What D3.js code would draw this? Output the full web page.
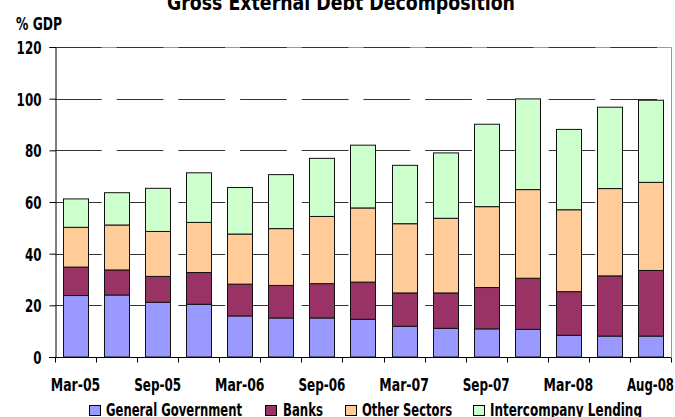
<!DOCTYPE html>
<html>
<head>
<meta charset="utf-8">
<script src="https://cdn.jsdelivr.net/npm/d3@7"></script>
<style>
  html, body { margin: 0; padding: 0; background: #fff; }
  svg { display: block; }
  text { font-family: "Liberation Sans Narrow", "Arial Narrow", "DejaVu Sans Condensed", sans-serif; font-weight: bold; fill: #000; }
</style>
</head>
<body>
<svg id="chart" width="675" height="417"></svg>
<script>
// Quarterly periods
const periods = ["Mar-05","Jun-05","Sep-05","Dec-05","Mar-06","Jun-06","Sep-06","Dec-06",
                 "Mar-07","Jun-07","Sep-07","Dec-07","Mar-08","Jun-08","Aug-08"];
// Only every second period gets a label
const tickLabels = ["Mar-05","Sep-05","Mar-06","Sep-06","Mar-07","Sep-07","Mar-08","Aug-08"];
const yTicks = [0, 20, 40, 60, 80, 100, 120];

// Gross external debt components, % of GDP
const generalGovernment   = [23.8, 24.0, 21.2, 20.4, 15.9, 15.1, 15.1, 14.6, 11.9, 11.1, 10.9, 10.7, 8.4, 8.1, 8.1];
const banks               = [11.0,  9.7, 10.0, 12.3, 12.3, 12.6, 13.3, 14.4, 12.9, 13.7, 16.0, 19.8, 16.9, 23.3, 25.4];
const otherSectors        = [15.4, 17.4, 17.4, 19.4, 19.4, 22.0, 26.0, 28.7, 26.8, 28.9, 31.3, 34.3, 31.7, 33.8, 34.1];
const intercompanyLending = [11.0, 12.5, 16.7, 19.2, 18.0, 20.9, 22.5, 24.3, 22.6, 25.3, 31.9, 35.1, 31.1, 31.5, 31.8];

const seriesNames  = ["General Government", "Banks", "Other Sectors", "Intercompany Lending"];
const seriesValues = [generalGovernment, banks, otherSectors, intercompanyLending];
const seriesColors = ["#9999FF", "#993366", "#FFCC99", "#CCFFCC"];

const svg = d3.select("#chart");
const plot = { left: 55, right: 671, top: 47, bottom: 357 };

const rows = periods.map((p, i) => {
  const r = { period: p };
  seriesNames.forEach((s, k) => r[s] = seriesValues[k][i]);
  return r;
});
const stacked = d3.stack().keys(seriesNames)(rows);

const x = d3.scaleBand().domain(periods).range([plot.left, plot.right])
  .paddingInner(0.39).paddingOuter(0.195);
const y = d3.scaleLinear().domain([0, 120]).range([plot.bottom, plot.top]);

// Title (partly above the top edge)
svg.append("text")
  .attr("x", 341).attr("y", 9.5)
  .attr("text-anchor", "middle")
  .attr("font-size", 22)
  .attr("textLength", 348).attr("lengthAdjust", "spacingAndGlyphs")
  .text("Gross External Debt Decomposition");

// Unit label
svg.append("text")
  .attr("x", 16).attr("y", 30)
  .attr("font-size", 17)
  .attr("textLength", 46).attr("lengthAdjust", "spacingAndGlyphs")
  .text("% GDP");

// Plot frame (top and right)
svg.append("path")
  .attr("d", `M${plot.left},${plot.top + 0.5}H${plot.right + 0.5}V${plot.bottom}`)
  .attr("fill", "none").attr("stroke", "#999").attr("stroke-width", 1);

// Dashed gridlines
svg.append("g").selectAll("line").data(yTicks.filter(d => d > 0)).join("line")
  .attr("x1", plot.left).attr("x2", plot.right)
  .attr("y1", d => Math.round(y(d)) + 0.5).attr("y2", d => Math.round(y(d)) + 0.5)
  .attr("stroke", "#333").attr("stroke-width", 1)
  .attr("stroke-dasharray", "46.7,15");

// Stacked bars
svg.append("g").selectAll("g").data(stacked).join("g")
  .attr("fill", (d, i) => seriesColors[i])
  .selectAll("rect").data(d => d).join("rect")
  .attr("x", d => Math.round(x(d.data.period)) + 0.5)
  .attr("width", Math.round(x.bandwidth()))
  .attr("y", d => y(d[1]))
  .attr("height", d => y(d[0]) - y(d[1]))
  .attr("stroke", "#111").attr("stroke-width", 1);

// Y axis
const yAxis = svg.append("g")
  .attr("transform", `translate(${plot.left + 0.5},0)`)
  .call(d3.axisLeft(y).tickValues(yTicks).tickSize(6).tickPadding(8));
yAxis.select(".domain").attr("stroke", "#000");
yAxis.selectAll(".tick line").attr("stroke", "#000");
yAxis.selectAll(".tick text")
  .attr("font-size", 18).attr("dy", "0.36em")
  .attr("font-family", null)
  .attr("textLength", d => String(d).length * 8.3)
  .attr("lengthAdjust", "spacingAndGlyphs");

// X axis with tick marks between bars
const step = x.step();
const xAxis = svg.append("g")
  .attr("transform", `translate(0,${plot.bottom + 0.5})`);
xAxis.append("line")
  .attr("x1", plot.left - 6).attr("x2", plot.right)
  .attr("stroke", "#000");
xAxis.selectAll("line.tick").data(d3.range(periods.length + 1)).join("line")
  .attr("class", "tick")
  .attr("x1", i => Math.round(plot.left + i * step) + 0.5)
  .attr("x2", i => Math.round(plot.left + i * step) + 0.5)
  .attr("y1", 0).attr("y2", 5)
  .attr("stroke", "#000");
xAxis.selectAll("text").data(tickLabels).join("text")
  .attr("x", d => x(d) + x.bandwidth() / 2)
  .attr("y", 33.5)
  .attr("text-anchor", "middle")
  .attr("font-size", 18)
  .attr("textLength", d => d.startsWith("Mar") ? 49.5 : 47)
  .attr("lengthAdjust", "spacingAndGlyphs")
  .text(d => d);

// Legend
const legendItems = [
  { sx: 89.5, tx: 106, tw: 136 },
  { sx: 265.5, tx: 283, tw: 40 },
  { sx: 345.5, tx: 362, tw: 90 },
  { sx: 473.5, tx: 490, tw: 152 }
];
const legend = svg.append("g");
seriesNames.forEach((name, i) => {
  const it = legendItems[i];
  legend.append("rect")
    .attr("x", it.sx).attr("y", 405.5).attr("width", 11).attr("height", 10)
    .attr("fill", seriesColors[i]).attr("stroke", "#000");
  legend.append("text")
    .attr("x", it.tx).attr("y", 416)
    .attr("font-size", 18)
    .attr("textLength", it.tw).attr("lengthAdjust", "spacingAndGlyphs")
    .text(name);
});
</script>
</body>
</html>
